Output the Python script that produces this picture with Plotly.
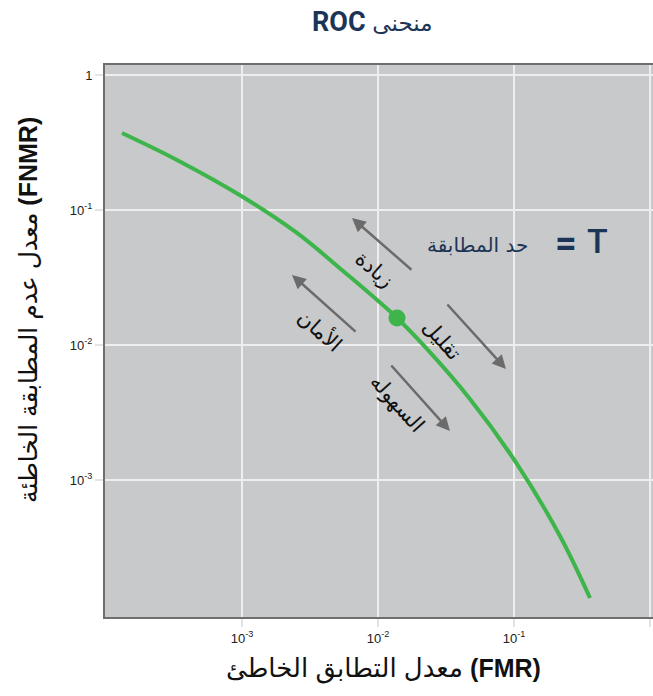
import plotly.graph_objects as go

# ---- data ----
fmr = [1.312e-4, 3.327e-4, 1.016e-3, 2.535e-3, 5.534e-3, 1.380e-2, 2.291e-2,
       4.742e-2, 0.1016, 0.2178, 0.3622]
fnmr = [0.3737, 0.2358, 0.1254, 0.06790, 0.03551, 0.01593, 0.009389,
        0.004001, 0.001390, 0.0003868, 0.0001343]
threshold_fmr = [0.01380]
threshold_fnmr = [0.01593]

x_tickvals = [1e-3, 1e-2, 1e-1, 1]
x_ticktext = ["10<sup>-3</sup>", "10<sup>-2</sup>", "10<sup>-1</sup>", "1"]
y_tickvals = [1e-3, 1e-2, 1e-1, 1]
y_ticktext = ["10<sup>-3</sup>", "10<sup>-2</sup>", "10<sup>-1</sup>", "1"]

# direction arrows (log10 coordinates of tail and head)
arrow_labels = ["زيادة", "الأمان", "تقليل", "السهوله"]
arrow_tail_x = [-1.743, -2.154, -1.500, -1.912]
arrow_tail_y = [-1.450, -1.909, -1.687, -2.139]
arrow_head_x = [-2.191, -2.632, -1.059, -1.471]
arrow_head_y = [-1.057, -1.479, -2.176, -2.635]
label_x = [-2.022, -2.426, -1.529, -1.860]
label_y = [-1.442, -1.887, -1.961, -2.427]
label_angle = [41, 42, 48, 48]

title_text = "<b>ROC</b> <span style='font-size:23px'>منحنى</span>"
x_title = "معدل التطابق الخاطئ <b><span style='font-size:25px'>(FMR)</span></b>"
y_title = "معدل عدم المطابقة الخاطئة <b><span style='font-size:25px'>(FNMR)</span></b>"
t_label = "حد المطابقة"

GREEN = "#3db54a"
NAVY = "#1c3557"
ARROW = "#6b6b6b"
AR_FONT = "DejaVu Sans, Noto Sans, sans-serif"

fig = go.Figure()
fig.add_trace(go.Scatter(x=fmr, y=fnmr, mode="lines",
                         line=dict(color=GREEN, width=4, shape="spline", smoothing=1.0),
                         hoverinfo="skip", showlegend=False))
fig.add_trace(go.Scatter(x=threshold_fmr, y=threshold_fnmr, mode="markers",
                         marker=dict(color=GREEN, size=17), hoverinfo="skip",
                         showlegend=False))

annotations = []
for i in range(len(arrow_labels)):
    annotations.append(dict(x=arrow_head_x[i], y=arrow_head_y[i], xref="x", yref="y",
                            ax=arrow_tail_x[i], ay=arrow_tail_y[i], axref="x", ayref="y",
                            text="", showarrow=True, arrowhead=2, arrowsize=1.1,
                            arrowwidth=2.5, arrowcolor=ARROW, standoff=0))
    annotations.append(dict(x=label_x[i], y=label_y[i], xref="x", yref="y",
                            text=arrow_labels[i], showarrow=False,
                            textangle=label_angle[i], xanchor="center", yanchor="middle",
                            font=dict(family=AR_FONT, size=21, color="#111111")))

def paper_note(px, py, text, font, angle=0):
    return dict(x=(px - 105) / 548, y=(617 - py) / 552, xref="paper", yref="paper",
                text=text, showarrow=False, textangle=angle,
                xanchor="center", yanchor="middle", font=font)

annotations += [
    paper_note(372, 22, title_text, dict(family="Roboto, " + AR_FONT, size=27, color=NAVY)),
    paper_note(383, 668, x_title, dict(family="Liberation Sans, " + AR_FONT, size=26, color="#111111")),
    paper_note(28, 310, y_title, dict(family="Liberation Sans, " + AR_FONT, size=25, color="#111111"), -90),
    paper_note(477, 245, t_label, dict(family=AR_FONT, size=20, color=NAVY)),
    paper_note(566, 243, "<b>=</b>", dict(family="Roboto", size=38, color=NAVY)),
    paper_note(597, 241, "T", dict(family="Roboto", size=34, color=NAVY, weight=500)),
]

fig.update_layout(
    width=653, height=696,
    margin=dict(l=105, r=0, t=65, b=79),
    paper_bgcolor="white", plot_bgcolor="#c8c9cb",
    annotations=annotations,
    showlegend=False,
)
axis_common = dict(type="log", showgrid=True, gridcolor="#eeeeee", gridwidth=1.5,
                   ticks="outside", ticklen=8, tickcolor="#e4e4e4", tickwidth=1.5,
                   showline=True, linecolor="#6e6e6e", linewidth=2,
                   zeroline=False, automargin=False,
                   tickfont=dict(family="Liberation Sans, Arial, sans-serif", size=13, color="#222222"))
fig.update_xaxes(range=[-4.007, 0.022], tickvals=x_tickvals, ticktext=x_ticktext,
                 mirror=True, **axis_common)
fig.update_yaxes(range=[-4.013, 0.076], tickvals=y_tickvals, ticktext=y_ticktext,
                 mirror=False, **axis_common)

fig.write_html("out.html", config={"displayModeBar": False},
               post_script="document.body.style.margin='0';document.body.style.overflow='hidden';")
